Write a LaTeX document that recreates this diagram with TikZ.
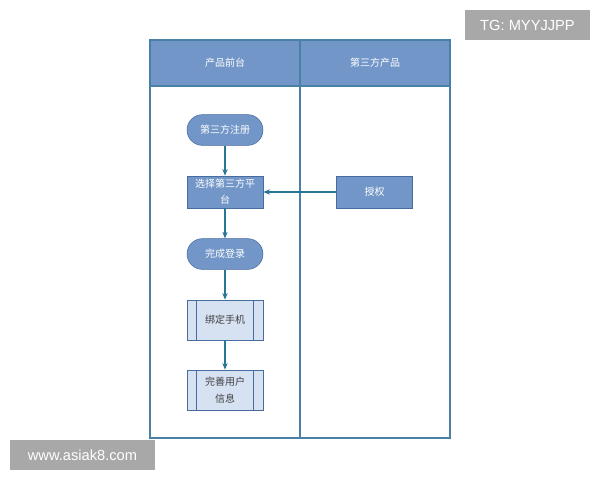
\documentclass[tikz,border=0pt]{standalone}
\usepackage{fontspec}
\setmainfont{Liberation Sans}
\newfontfamily\cjk{Noto Sans CJK SC}
\usepackage{xcolor}
\usetikzlibrary{arrows.meta}

\definecolor{headblue}{RGB}{114,150,200}
\definecolor{lineblue}{RGB}{72,128,168}
\definecolor{boxedge}{RGB}{70,108,160}
\definecolor{lightbox}{RGB}{214,225,242}
\definecolor{arrowteal}{RGB}{40,118,150}
\definecolor{markgray}{RGB}{168,168,168}

\tikzset{
  lane/.style={draw=lineblue, line width=0.9pt},
  lanehead/.style={draw=lineblue, fill=headblue, line width=0.9pt},
  headtext/.style={text=white, font=\cjk\fontsize{7.5}{9}\selectfont},
  terminal/.style={draw=boxedge, fill=headblue, rounded corners=11.5pt, minimum width=57pt, minimum height=23pt,
    text=white, font=\cjk\fontsize{7.5}{9}\selectfont, inner sep=1pt},
  procbox/.style={draw=boxedge, fill=headblue, minimum width=57pt, minimum height=24pt,
    text=white, font=\cjk\fontsize{7.5}{12}\selectfont, align=center, inner sep=1pt},
  subproc/.style={draw=boxedge, fill=lightbox, minimum width=57pt, minimum height=30pt,
    text=black!75, font=\cjk\fontsize{7.5}{13}\selectfont, align=center, inner sep=1pt},
  flow/.style={draw=arrowteal, line width=0.8pt, -{Stealth[length=5pt,width=4pt]}},
  watermark/.style={fill=markgray, text=white, font=\fontsize{11}{13}\selectfont, inner sep=0pt}
}

\begin{document}
\begin{tikzpicture}[x=0.75pt,y=0.75pt,yscale=-1,xscale=1]
  \useasboundingbox (0,0) rectangle (600,480);

  % swimlanes
  \draw [lanehead] (150,40) rectangle (300,86);
  \draw [lanehead] (300,40) rectangle (450,86);
  \draw [lane] (150,86) rectangle (300,438);
  \draw [lane] (300,86) rectangle (450,438);
  \node [headtext] (head1) at (225,63) {产品前台};
  \node [headtext] (head2) at (375,63) {第三方产品};

  % steps
  \node [terminal] (reg) at (225,130) {第三方注册};
  \node [procbox] (choose) at (225,192) {选择第三方平\\台};
  \node [procbox] (auth) at (374.5,192) {授权};
  \node [terminal] (login) at (225,254) {完成登录};
  \node [subproc] (bind) at (225,320) {绑定手机};
  \node [subproc] (info) at (225,390) {完善用户\\信息};

  \foreach \n in {bind,info}{
    \draw [boxedge, line width=0.6pt] ([xshift=7.5pt]\n.north west) -- ([xshift=7.5pt]\n.south west);
    \draw [boxedge, line width=0.6pt] ([xshift=-7.5pt]\n.north east) -- ([xshift=-7.5pt]\n.south east);
  }

  % connectors
  \draw [flow] (reg) -- (choose);
  \draw [flow] (auth) -- (choose);
  \draw [flow] (choose) -- (login);
  \draw [flow] (login) -- (bind);
  \draw [flow] (bind) -- (info);

  % marks
  \node [watermark, minimum width=93.75pt, minimum height=22.5pt] (tg) at (527.5,25) {TG: MYYJJPP};
  \node [watermark, minimum width=108.75pt, minimum height=22.5pt] (web) at (82.5,455) {www.asiak8.com};
\end{tikzpicture}
\end{document}
